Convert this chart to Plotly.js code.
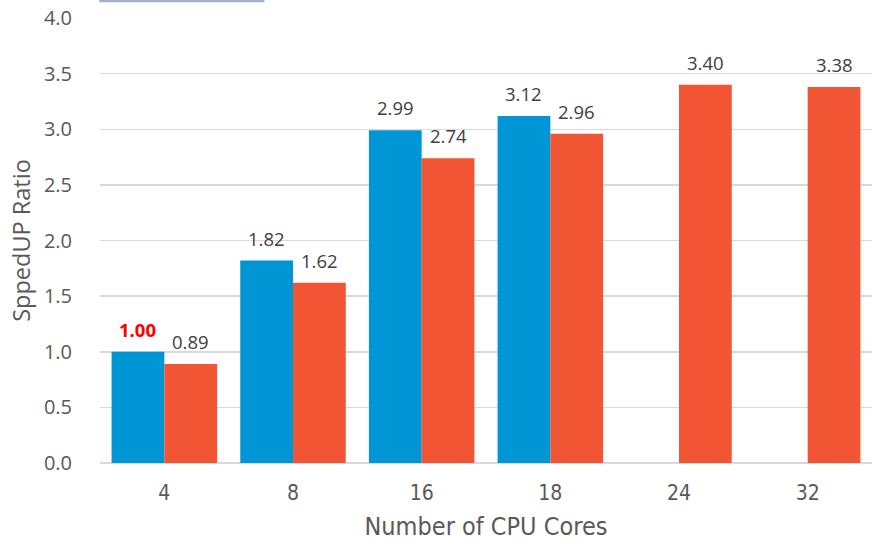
<!DOCTYPE html>
<html>
<head>
<meta charset="utf-8">
<script src="https://cdn.plot.ly/plotly-3.0.1.min.js"></script>
<style>html,body{margin:0;padding:0;background:#fff}#chart{width:872px;height:542px}</style>
</head>
<body>
<div id="chart"></div>
<script>
var categories = ["4", "8", "16", "18", "24", "32"];
var seriesA = [1.00, 1.82, 2.99, 3.12, null, null];
var seriesB = [0.89, 1.62, 2.74, 2.96, 3.40, 3.38];
var yTicks = [0, 0.5, 1.0, 1.5, 2.0, 2.5, 3.0, 3.5, 4.0];

var traceA = {
  type: "bar", x: categories, y: seriesA,
  marker: {color: "#0096d6"}, hoverinfo: "none"
};
var traceB = {
  type: "bar", x: categories, y: seriesB,
  marker: {color: "#f15533"}, hoverinfo: "none"
};

var annotations = [];
function addLabels(arr, shift) {
  arr.forEach(function (v, i) {
    if (v === null) return;
    var first = (shift < 0 && i === 0);
    annotations.push({
      x: i, y: v, xref: "x", yref: "y",
      xshift: shift, yshift: 8, yanchor: "bottom", showarrow: false,
      text: first ? "<b>" + v.toFixed(2) + "</b>" : v.toFixed(2),
      font: {family: "Open Sans", size: 18.5, color: first ? "#ff0000" : "#404040"}
    });
  });
}
addLabels(seriesA, -26.5);
addLabels(seriesB, 26.5);

var layout = {
  width: 872, height: 542,
  margin: {l: 100, r: 0, t: 18, b: 79},
  barmode: "group", bargap: 0.18, bargroupgap: 0,
  showlegend: false,
  paper_bgcolor: "#fff", plot_bgcolor: "#fff",
  font: {family: "Open Sans", color: "#595959"},
  annotations: annotations,
  xaxis: {
    type: "category", range: [-0.5, 5.5], autorange: false,
    showgrid: false, zeroline: false, showline: false,
    ticks: "", ticklabelstandoff: 15,
    tickfont: {family: "DejaVu Sans Condensed", size: 21, color: "#595959"},
    title: {text: "Number of CPU Cores", standoff: 13,
            font: {family: "DejaVu Sans Condensed", size: 25, color: "#595959"}}
  },
  yaxis: {
    range: [0, 4.0], autorange: false, tickvals: yTicks, ticktext: yTicks.map(function (v) { return v.toFixed(1); }),
    showgrid: true, gridcolor: "#d9d9d9", gridwidth: 1.5,
    zeroline: true, zerolinecolor: "#d9d9d9", zerolinewidth: 1.5,
    showline: false, ticks: "", ticklabelstandoff: 27,
    tickfont: {family: "Open Sans", size: 20, color: "#595959"},
    title: {text: "SppedUP Ratio", standoff: 6,
            font: {family: "Open Sans", size: 23.5, color: "#595959"}}
  },
  shapes: [{
    type: "rect", xref: "paper", yref: "paper",
    x0: -0.001, x1: 0.213, y0: 1.0355, y1: 1.0405,
    line: {width: 0}, fillcolor: "#a3b1c8"
  }]
};

Plotly.newPlot("chart", [traceA, traceB], layout, {staticPlot: true, displayModeBar: false});
</script>
</body>
</html>
